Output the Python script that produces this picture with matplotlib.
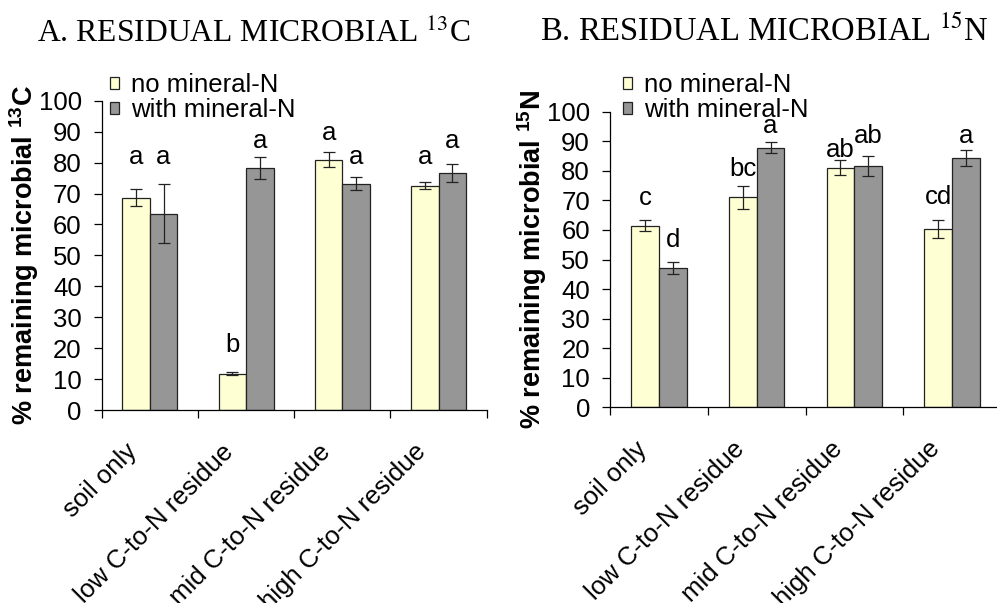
import matplotlib
matplotlib.use("Agg")
import matplotlib.pyplot as plt
import matplotlib.transforms as mtransforms
import numpy as np

plt.rcParams['font.family'] = ['Liberation Sans', 'DejaVu Sans']
plt.rcParams['mathtext.fontset'] = 'custom'
plt.rcParams['mathtext.rm'] = 'Liberation Sans'
plt.rcParams['mathtext.bf'] = 'Liberation Sans:bold'

# treatments on the x axis
categories = ["soil only", "low C-to-N residue", "mid C-to-N residue", "high C-to-N residue"]
series_names = ["no mineral-N", "with mineral-N"]

# A: residual microbial 13C (%), means and standard errors
c13_no_n = [68.7, 11.8, 81.0, 72.6]
c13_no_n_err = [2.7, 0.4, 2.3, 1.2]
c13_with_n = [63.5, 78.3, 73.2, 76.5]
c13_with_n_err = [9.5, 3.5, 2.2, 2.9]
c13_letters_no_n = ["a", "b", "a", "a"]
c13_letters_with_n = ["a", "a", "a", "a"]
c13_letter_y_no_n = [79.6, 18.7, 87.4, 79.6]
c13_letter_y_with_n = [79.6, 84.8, 79.6, 84.8]

# B: residual microbial 15N (%)
n15_no_n = [61.4, 71.0, 81.1, 60.2]
n15_no_n_err = [1.9, 4.0, 2.4, 3.0]
n15_with_n = [47.2, 87.8, 81.7, 84.4]
n15_with_n_err = [2.0, 1.9, 3.4, 2.7]
n15_letters_no_n = ["c", "bc", "ab", "cd"]
n15_letters_with_n = ["d", "a", "ab", "a"]
n15_letter_y_no_n = [68.4, 78.2, 84.6, 68.7]
n15_letter_y_with_n = [54.3, 92.7, 89.3, 89.3]

yellow = "#FFFFD4"
grey = "#969696"
fs = 18.5
W, H = 997, 603

fig = plt.figure(figsize=(W / 100, H / 100), dpi=100)
axA = fig.add_axes([101.7 / W, 1 - 410 / H, 385 / W, 309.2 / H])
axB = fig.add_axes([610 / W, 1 - 407.3 / H, 391 / W, 295.6 / H])


def draw_panel(ax, no_n, no_err, with_n, with_err, let_no, let_with, ly_no, ly_with, iso, elem, leg_xy):
    x = np.arange(len(categories))
    w = 0.285
    b1 = ax.bar(x - w / 2, no_n, w, color=yellow, edgecolor="#222222", linewidth=0.9,
                yerr=no_err, error_kw=dict(ecolor="#222222", elinewidth=0.9, capsize=4.5, capthick=0.9),
                label=series_names[0], zorder=2)
    b2 = ax.bar(x + w / 2, with_n, w, color=grey, edgecolor="#222222", linewidth=0.9,
                yerr=with_err, error_kw=dict(ecolor="#222222", elinewidth=0.9, capsize=4.5, capthick=0.9),
                label=series_names[1], zorder=2)
    for xi, t, yv in zip(x - w / 2, let_no, ly_no):
        ax.text(xi, yv, t, ha="center", va="baseline", fontsize=fs)
    for xi, t, yv in zip(x + w / 2, let_with, ly_with):
        ax.text(xi, yv, t, ha="center", va="baseline", fontsize=fs)

    ax.set_xlim(-0.5, len(categories) - 0.5)
    ax.set_ylim(0, 100)
    ax.set_yticks(np.arange(0, 101, 10))
    ax.tick_params(axis="y", labelsize=fs, length=5.8, width=0.9, pad=8.6, direction="out")

    # ticks only at the group boundaries; slanted category names drawn as text
    ax.set_xticks(np.arange(-0.5, len(categories), 1.0))
    ax.set_xticklabels([])
    ax.tick_params(axis="x", length=5.8, width=0.9, direction="out")
    shift = mtransforms.ScaledTranslation(-0.16, -0.38, fig.dpi_scale_trans)
    trans = ax.get_xaxis_transform() + shift
    for xi, name in zip(x, categories):
        ax.text(xi, 0, name, transform=trans, rotation=45, ha="right", va="center",
                rotation_mode="anchor", fontsize=fs, clip_on=False)

    for s in ["top", "right"]:
        ax.spines[s].set_visible(False)
    for s in ["left", "bottom"]:
        ax.spines[s].set_linewidth(0.9)

    ax.set_ylabel("% remaining microbial $\\mathbf{^{" + iso + "}}$" + elem,
                  fontsize=19.5, fontweight="bold")
    ax.yaxis.set_label_coords(-0.157, 0.5)

    ax.legend(handles=[b1, b2], loc="upper left", bbox_to_anchor=leg_xy,
              bbox_transform=fig.transFigure, frameon=False, fontsize=fs,
              handlelength=0.35, handleheight=0.35, handletextpad=0.45,
              labelspacing=0.05, borderpad=0, borderaxespad=0)


draw_panel(axA, c13_no_n, c13_no_n_err, c13_with_n, c13_with_n_err,
           c13_letters_no_n, c13_letters_with_n, c13_letter_y_no_n, c13_letter_y_with_n,
           "13", "C", (110 / W, 1 - 73 / H))
draw_panel(axB, n15_no_n, n15_no_n_err, n15_with_n, n15_with_n_err,
           n15_letters_no_n, n15_letters_with_n, n15_letter_y_no_n, n15_letter_y_with_n,
           "15", "N", (623 / W, 1 - 73 / H))

fig.text(254 / W, 1 - 41.7 / H, "A. RESIDUAL MICROBIAL $^{13}$C", ha="center", va="baseline",
         fontsize=22.8, family="Liberation Serif", math_fontfamily="stix")
fig.text(764 / W, 1 - 41.7 / H, "B. RESIDUAL MICROBIAL $^{15}$N", ha="center", va="baseline",
         fontsize=23.5, family="Liberation Serif", math_fontfamily="stix")

fig.savefig("out.png", dpi=100)
